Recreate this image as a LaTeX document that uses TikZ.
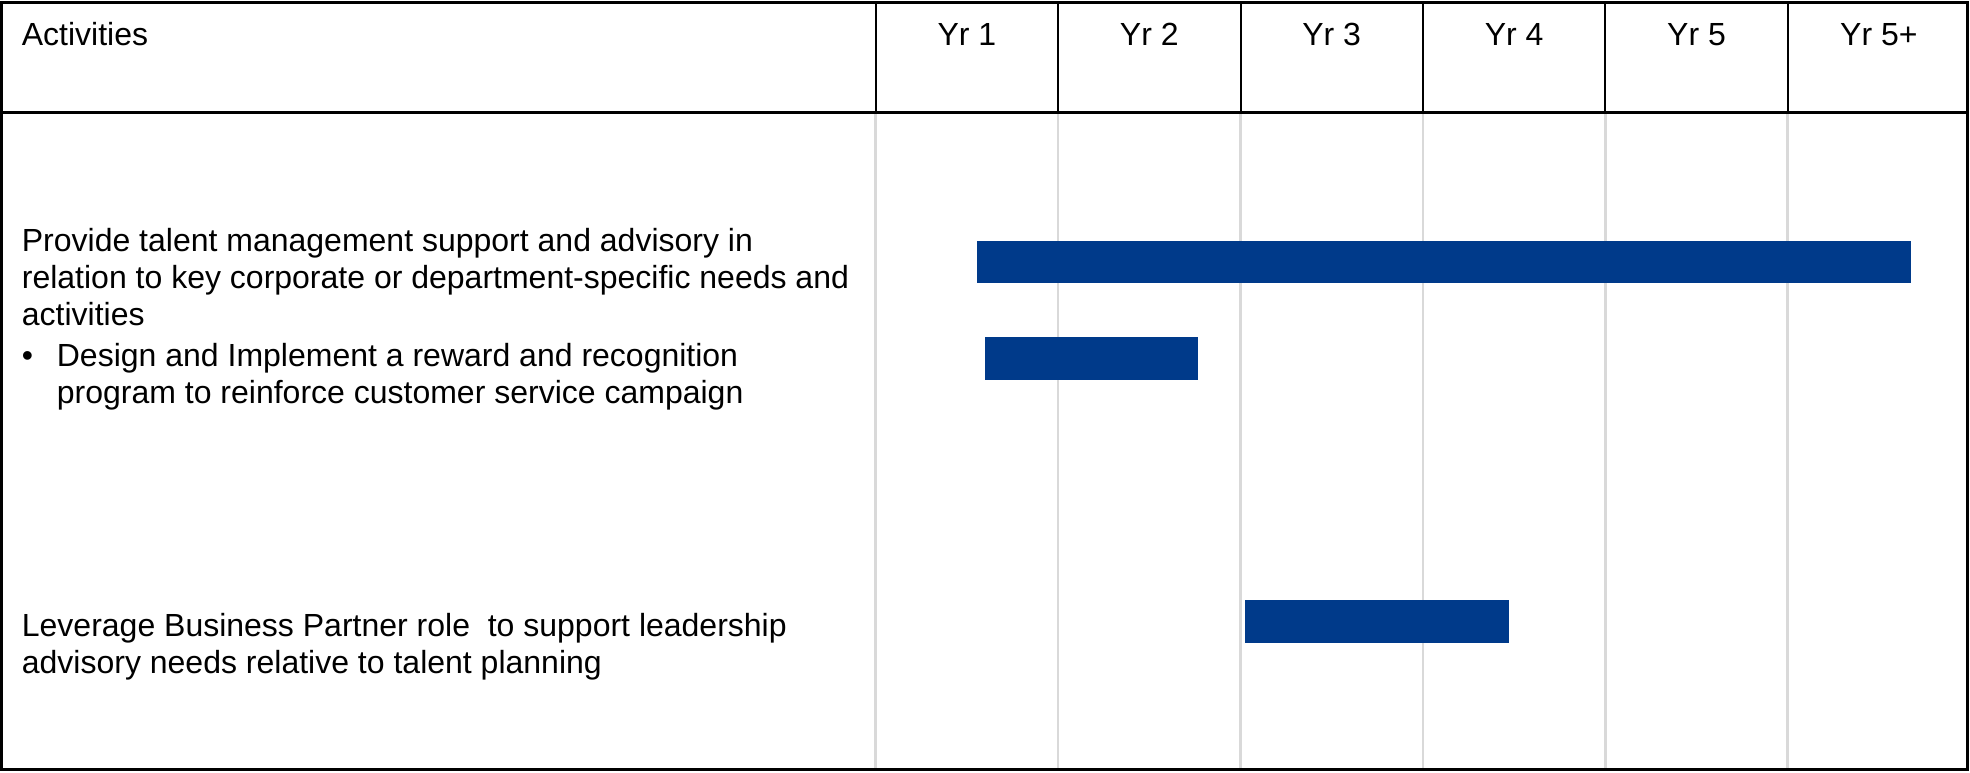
\documentclass[tikz,border=0pt]{standalone}
\usepackage{fontspec}
\setmainfont{Liberation Sans}
\usetikzlibrary{calc,positioning}
\definecolor{barblue}{RGB}{0,58,138}
\definecolor{gridgray}{RGB}{217,217,217}
\newcommand{\cellfont}{\fontsize{32}{37}\selectfont}

\begin{document}
\begin{tikzpicture}[x=1pt, y=1pt,
	frame/.style={line width=3pt},
	divider/.style={line width=2pt},
	gridline/.style={draw=gridgray, line width=2.5pt},
	bar/.style={fill=barblue},
	cell/.style={font=\cellfont, inner sep=0pt, align=left}]
	\useasboundingbox (0,0) rectangle (1970,-772);
	\coordinate (tl) at (1.5,-2.5);
	\coordinate (br) at (1967.5,-769.5);
	\coordinate (hd) at (0,-112);
	\coordinate (col) at (875.7,0);
	% year columns: black in the header, light grey below it
	\foreach \i/\yr in {0/Yr 1, 1/Yr 2, 2/Yr 3, 3/Yr 4, 4/Yr 5, 5/Yr 5+} {
		\coordinate (c\i) at ($(col)+(182.4*\i,0)$);
		\draw[gridline] (c\i |- hd) -- (c\i |- br);
		\draw[divider] (c\i |- tl) -- (c\i |- hd);
		\node[cell, anchor=base] (yr\i) at ($(c\i)+(91.2,-45)$) {\yr};
	}
	\node[cell, anchor=base west] (act) at (21.7,-45) {Activities};
	\node[cell, anchor=north west] (task1) at (21.7,-228) {Provide talent management support and advisory in\\
		relation to key corporate or department-specific needs and\\
		activities\\[4pt]
		\makebox[35pt][l]{•}Design and Implement a reward and recognition\\
		\hspace*{35pt}program to reinforce customer service campaign};
	\node[cell, anchor=north west] (task2) at (21.7,-613) {Leverage Business Partner role~ to support leadership\\
		advisory needs relative to talent planning};
	% bars
	\fill[bar] (977,-241) rectangle (1911,-283);
	\fill[bar] (985,-337) rectangle (1198,-380);
	\fill[bar] (1245,-600) rectangle (1509,-643);
	\draw[frame] (tl |- hd) -- (br |- hd);
	\draw[frame] (tl) rectangle (br);
\end{tikzpicture}
\end{document}
